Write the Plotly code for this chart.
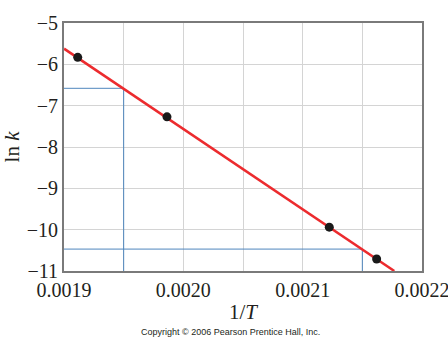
import plotly.graph_objects as go

# Data points (1/T, ln k)
inv_T = [0.0019115, 0.0019863, 0.0021223, 0.002162]
ln_k = [-5.83, -7.27, -9.94, -10.71]

# Best-fit line endpoints
fit_x = [0.0019, 0.0021768]
fit_y = [-5.62, -11.0]

# Blue guide lines
guide1_x = [0.0019, 0.00195, 0.00195]
guide1_y = [-6.58, -6.58, -11.0]
guide2_x = [0.0019, 0.00215, 0.00215]
guide2_y = [-10.47, -10.47, -11.0]

x_tickvals = [0.0019, 0.00195, 0.0020, 0.00205, 0.0021, 0.00215, 0.0022]
x_ticktext = ["0.0019", "", "0.0020", "", "0.0021", "", "0.0022"]
y_tickvals = [-5, -6, -7, -8, -9, -10, -11]
y_ticktext = ["\u22125", "\u22126", "\u22127", "\u22128", "\u22129", "\u221210", "\u221211"]

serif = "Liberation Serif, Times New Roman, serif"

fig = go.Figure()
fig.add_trace(go.Scatter(x=guide1_x, y=guide1_y, mode="lines",
                         line=dict(color="#4f86bd", width=1), showlegend=False, hoverinfo="skip"))
fig.add_trace(go.Scatter(x=guide2_x, y=guide2_y, mode="lines",
                         line=dict(color="#4f86bd", width=1), showlegend=False, hoverinfo="skip"))
fig.add_trace(go.Scatter(x=fit_x, y=fit_y, mode="lines",
                         line=dict(color="#ec2b2e", width=2.5), showlegend=False))
fig.add_trace(go.Scatter(x=inv_T, y=ln_k, mode="markers",
                         marker=dict(color="#1a1a1a", size=9), showlegend=False))

fig.update_layout(
    autosize=False,
    width=448, height=337,
    margin=dict(l=64, r=26, t=23, b=66, autoexpand=False),
    paper_bgcolor="white", plot_bgcolor="white",
    font=dict(family=serif, color="#231f20"),
    xaxis=dict(range=[0.0019, 0.0022], tickvals=x_tickvals, ticktext=x_ticktext,
               showgrid=True, gridcolor="#d4d4d4", gridwidth=1, zeroline=False,
               showline=True, linecolor="#7a7a7a", linewidth=2, mirror=True,
               ticks="", tickfont=dict(size=20, family=serif), automargin=False,
               ticklabeloverflow="allow",
               title=dict(text="1/<i>T</i>", font=dict(size=21, family=serif), standoff=4)),
    yaxis=dict(range=[-11, -5], tickvals=y_tickvals, ticktext=y_ticktext,
               showgrid=True, gridcolor="#d4d4d4", gridwidth=1, zeroline=False,
               showline=True, linecolor="#7a7a7a", linewidth=2, mirror=True,
               ticks="", tickfont=dict(size=20, family=serif), automargin=False,
               ticklabeloverflow="allow",
               title=dict(text="ln <i>k</i>", font=dict(size=21, family=serif), standoff=6)),
    annotations=[dict(text="Copyright \u00a9 2006 Pearson Prentice Hall, Inc.",
                      xref="paper", yref="paper", x=0.464, y=-0.246,
                      xanchor="center", yanchor="middle", showarrow=False,
                      font=dict(size=9, family="Liberation Sans Narrow, Arial Narrow, sans-serif", color="#231f20"))],
)

fig.write_html("out.html", config={"responsive": False, "displayModeBar": False},
               post_script="document.body.style.margin='0';document.body.style.overflow='hidden';")
